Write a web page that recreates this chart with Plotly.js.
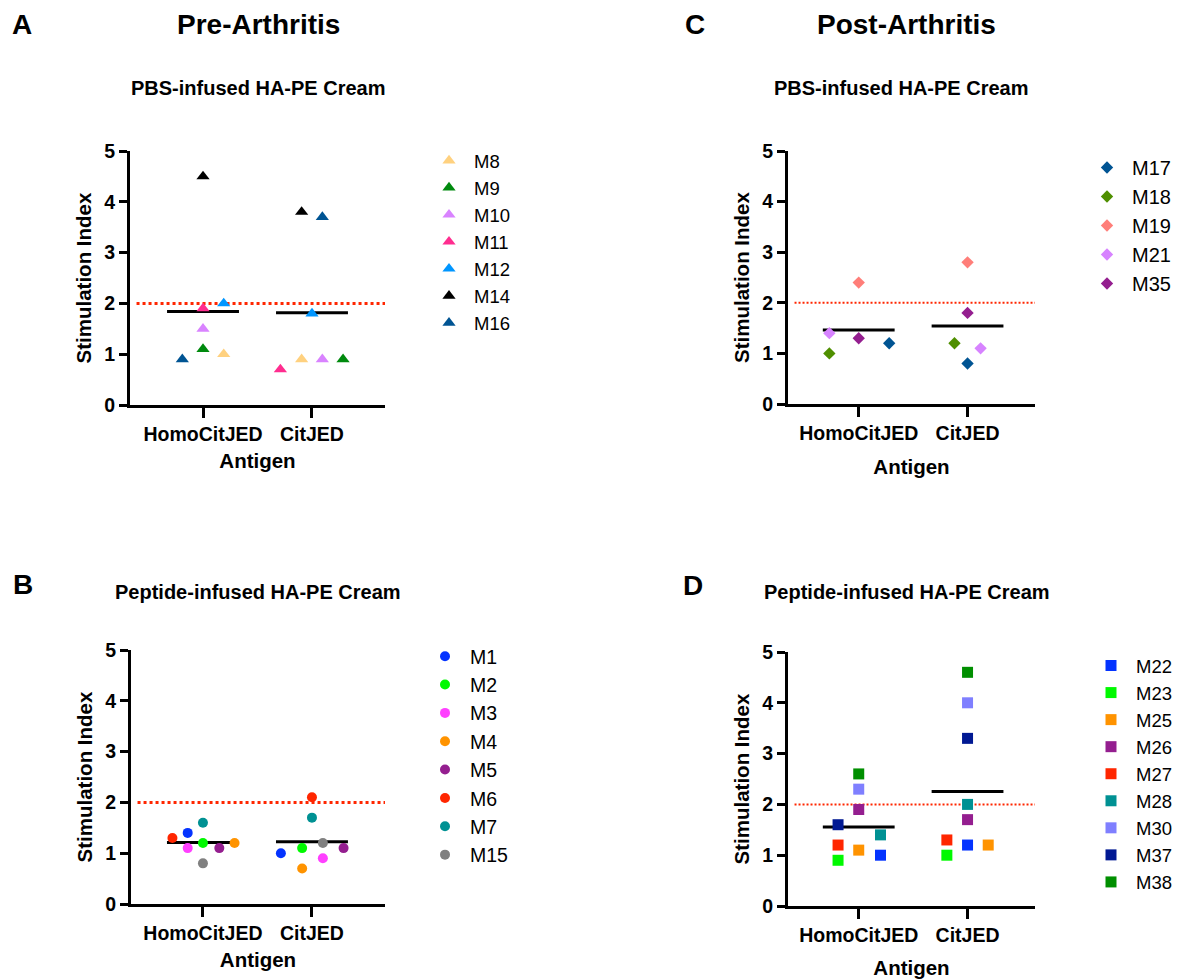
<!DOCTYPE html>
<html>
<head>
<meta charset="utf-8">
<script src="https://cdn.plot.ly/plotly-3.0.1.min.js"></script>
<style>
html,body{margin:0;padding:0;background:#fff;}
#chart{width:1189px;height:979px;}
</style>
</head>
<body>
<div id="chart"></div>
<script>
// ---------------- DATA ----------------
const antigens = ["HomoCitJED", "CitJED"];
const threshold = 2;

// Panel A: Pre-Arthritis, PBS-infused HA-PE Cream
const miceA = ["M8", "M9", "M10", "M11", "M12", "M14", "M16"];
const homoA = [1.0, 1.1, 1.5, 1.9, 2.0, 4.5, 0.9];
const citA  = [0.9, 0.9, 0.9, 0.7, 1.8, 3.8, 3.7];

// Panel B: Pre-Arthritis, Peptide-infused HA-PE Cream
const miceB = ["M1", "M2", "M3", "M4", "M5", "M6", "M7", "M15"];
const homoB = [1.4, 1.2, 1.1, 1.2, 1.1, 1.3, 1.6, 0.8];
const citB  = [1.0, 1.1, 0.9, 0.7, 1.1, 2.1, 1.7, 1.2];

// Panel C: Post-Arthritis, PBS-infused HA-PE Cream
const miceC = ["M17", "M18", "M19", "M21", "M35"];
const homoC = [1.2, 1.0, 2.4, 1.4, 1.3];
const citC  = [0.8, 1.2, 2.8, 1.1, 1.8];

// Panel D: Post-Arthritis, Peptide-infused HA-PE Cream
const miceD = ["M22", "M23", "M25", "M26", "M27", "M28", "M30", "M37", "M38"];
const homoD = [1.0, 0.9, 1.1, 1.9, 1.2, 1.4, 2.3, 1.6, 2.6];
const citD  = [1.2, 1.0, 1.2, 1.7, 1.3, 2.0, 4.0, 3.3, 4.6];

const yTicks = [0, 1, 2, 3, 4, 5];

// ---------------- STYLE (colours, symbol, horizontal scatter offsets) ----------------
const colorsA = ["#ffd17f", "#008a0e", "#d983ff", "#ff2d8f", "#0096ff", "#000000", "#005493"];
const colorsB = ["#0433ff", "#00f900", "#ff40ff", "#ff9300", "#941e8f", "#ff2600", "#009193", "#808080"];
const colorsC = ["#005493", "#4f8f00", "#ff7e79", "#d783ff", "#941e8f"];
const colorsD = ["#0433ff", "#00f900", "#ff9300", "#941e8f", "#ff2600", "#009193", "#7f7fff", "#011993", "#008f00"];

const offA_h = [0.19, 0, 0, 0, 0.19, 0, -0.19];
const offA_c = [-0.095, 0.285, 0.095, -0.29, 0, -0.095, 0.095];
const offB_h = [-0.14, 0, -0.14, 0.29, 0.15, -0.28, 0, 0];
const offB_c = [-0.285, -0.09, 0.1, -0.09, 0.29, 0, 0, 0.1];
const offC_h = [0.28, -0.27, 0, -0.27, 0];
const offC_c = [0, -0.12, 0, 0.12, 0];
const offD_h = [0.2, -0.19, 0, 0, -0.19, 0.2, 0, -0.19, 0];
const offD_c = [0, -0.19, 0.19, 0, -0.19, 0, 0, 0, 0];

const FONT = "Liberation Sans, Arial, Helvetica, sans-serif";
const W = 1189, H = 979;

function mean(a){ return a.reduce((s,v)=>s+v,0)/a.length; }

const panels = [
  {mice: miceA, homo: homoA, cit: citA, colors: colorsA, offH: offA_h, offC: offA_c, symbol: "triangle-up", size: 11.5,
   xs: "x", ys: "y", legend: "legend", xpx: [130, 385], ypx: [151, 405], xr: [-0.67, 1.67], dotW: 3, dash: "dot", standoff: 10,
   leg: {x: 424, y: 142, fs: 18.5}},
  {mice: miceB, homo: homoB, cit: citB, colors: colorsB, offH: offB_h, offC: offB_c, symbol: "circle", size: 10,
   xs: "x2", ys: "y2", legend: "legend2", xpx: [131, 385], ypx: [650, 904], xr: [-0.66, 1.67], dotW: 3, dash: "dot", standoff: 10,
   leg: {x: 420, y: 637, fs: 19.5}},
  {mice: miceC, homo: homoC, cit: citC, colors: colorsC, offH: offC_h, offC: offC_c, symbol: "diamond", size: 9.5,
   xs: "x3", ys: "y3", legend: "legend3", xpx: [788, 1035], ypx: [151, 404], xr: [-0.65, 1.62], dotW: 2, dash: "2px,2px", standoff: 17,
   leg: {x: 1082, y: 148, fs: 20}},
  {mice: miceD, homo: homoD, cit: citD, colors: colorsD, offH: offD_h, offC: offD_c, symbol: "square", size: 11,
   xs: "x4", ys: "y4", legend: "legend4", xpx: [788, 1035], ypx: [652, 906], xr: [-0.65, 1.62], dotW: 2, dash: "2px,2px", standoff: 18,
   leg: {x: 1086, y: 647, fs: 18.5}}
];

const data = [];
const layout = {
  width: W, height: H,
  margin: {l: 0, r: 0, t: 0, b: 0},
  paper_bgcolor: "#ffffff", plot_bgcolor: "rgba(0,0,0,0)",
  font: {family: FONT, color: "#000", size: 20},
  showlegend: true,
  annotations: [],
};

panels.forEach((p, k) => {
  // threshold dotted line
  data.push({
    x: [p.xr[0] + 0.06, p.xr[1]], y: [threshold, threshold],
    xaxis: p.xs, yaxis: p.ys, mode: "lines", showlegend: false, hoverinfo: "skip",
    line: {color: "#ff2600", width: p.dotW, dash: p.dash}
  });
  // mean lines
  [p.homo, p.cit].forEach((vals, ci) => {
    const m = mean(vals);
    data.push({
      x: [ci - 0.33, ci + 0.33], y: [m, m],
      xaxis: p.xs, yaxis: p.ys, mode: "lines", showlegend: false, hoverinfo: "skip",
      line: {color: "#000", width: 3}
    });
  });
  // per mouse markers
  p.mice.forEach((name, i) => {
    data.push({
      name: name,
      x: [0 + p.offH[i], 1 + p.offC[i]],
      y: [p.homo[i], p.cit[i]],
      xaxis: p.xs, yaxis: p.ys, legend: p.legend,
      mode: "markers", cliponaxis: false,
      marker: {symbol: p.symbol, size: p.size, color: p.colors[i], line: {width: 0}}
    });
  });

  const sfx = k === 0 ? "" : String(k + 1);
  layout["xaxis" + sfx] = {
    domain: [p.xpx[0] / W, p.xpx[1] / W],
    range: p.xr, anchor: "y" + sfx,
    showline: true, linewidth: 3, linecolor: "#000",
    showgrid: false, zeroline: false,
    tickmode: "array", tickvals: [0, 1], ticktext: antigens,
    ticks: "outside", ticklen: 10, tickwidth: 3, tickcolor: "#000",
    tickfont: {family: FONT, size: 19.5, weight: "bold", color: "#000"},
    title: {text: "Antigen", font: {family: FONT, size: 20.5, weight: "bold", color: "#000"}, standoff: p.standoff},
    automargin: false, fixedrange: true
  };
  layout["yaxis" + sfx] = {
    domain: [1 - p.ypx[1] / H, 1 - p.ypx[0] / H],
    range: [0, 5], anchor: "x" + sfx,
    showline: true, linewidth: 3, linecolor: "#000",
    showgrid: false, zeroline: false,
    tickmode: "array", tickvals: yTicks,
    ticks: "outside", ticklen: 8, tickwidth: 3, tickcolor: "#000",
    tickfont: {family: FONT, size: 19.5, weight: "bold", color: "#000"},
    ticklabelstandoff: 0,
    title: {text: "Stimulation Index", font: {family: FONT, size: 20.5, weight: "bold", color: "#000"}, standoff: 8},
    automargin: false, fixedrange: true
  };
  layout[p.legend] = {
    x: p.leg.x / W, y: 1 - p.leg.y / H,
    xanchor: "left", yanchor: "top", xref: "paper", yref: "paper",
    bgcolor: "rgba(0,0,0,0)", borderwidth: 0, itemwidth: 40,
    font: {family: FONT, size: p.leg.fs, color: "#000"},
    traceorder: "normal", itemclick: false, itemdoubleclick: false
  };
});

function ann(text, xpx, ypx, size) {
  layout.annotations.push({
    text: text, xref: "paper", yref: "paper",
    x: xpx / W, y: 1 - ypx / H, xanchor: "center", yanchor: "middle",
    showarrow: false, font: {family: FONT, size: size, weight: "bold", color: "#000"}
  });
}
ann("A", 22, 24, 28);
ann("Pre-Arthritis", 258.5, 24, 28);
ann("PBS-infused HA-PE Cream", 258, 88, 20);
ann("B", 23, 584, 28);
ann("Peptide-infused HA-PE Cream", 258, 592, 20);
ann("C", 695, 24, 28);
ann("Post-Arthritis", 906.5, 24, 28);
ann("PBS-infused HA-PE Cream", 901, 88, 20);
ann("D", 693, 585, 28);
ann("Peptide-infused HA-PE Cream", 907, 592, 20);

Plotly.newPlot("chart", data, layout, {displayModeBar: false, staticPlot: false});
</script>
</body>
</html>
